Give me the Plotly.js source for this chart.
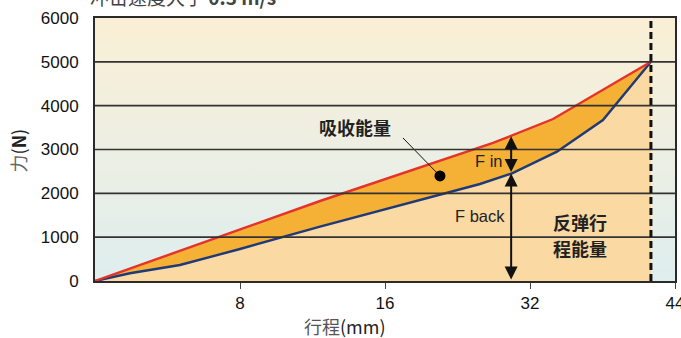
<!DOCTYPE html>
<html>
<head>
<meta charset="utf-8">
<script src="https://cdn.plot.ly/plotly-3.0.1.min.js"></script>
<style>
  html, body { margin: 0; padding: 0; background: #ffffff; }
  #chart { width: 681px; height: 338px; }
</style>
</head>
<body>
<div id="chart"></div>
<script>
// x axis is drawn in equal-spaced slots, labelled with the stroke in mm
const xTickVals = [1, 2, 3, 4];
const xTickText = ['8', '16', '32', '44'];
const yTickVals = [0, 1000, 2000, 3000, 4000, 5000, 6000];

// F in (red) and F back (blue), force in N
const fInX = [0, 1.552, 2.745, 3.159, 3.834];
const fInY = [0, 1825, 3149, 3696, 5000];
const fBackX = [0, 0.241, 0.586, 1.0, 1.552, 2.428, 2.655, 2.876, 3.186, 3.503, 3.834];
const fBackY = [0, 176, 365, 730, 1239, 2001, 2213, 2457, 2950, 3673, 5000];

const strokeEnd = 3.834;
const arrowX = 2.87;
const arrowMid = 2450;
const arrowTop = 3300;

const CJK = '"Noto Sans CJK SC", "Noto Sans", sans-serif';
const NARROW = '"Liberation Sans Narrow", "Liberation Sans", Arial, sans-serif';

const bgSvg = '<svg xmlns="http://www.w3.org/2000/svg" width="10" height="100" preserveAspectRatio="none">' +
  '<defs><linearGradient id="g" x1="0" y1="0" x2="0" y2="1">' +
  '<stop offset="0" stop-color="#faefd5"/><stop offset="0.5" stop-color="#edefe3"/>' +
  '<stop offset="1" stop-color="#deeeee"/></linearGradient></defs>' +
  '<rect width="10" height="100" fill="url(#g)"/></svg>';

const traces = [
  { x: fBackX, y: fBackY, type: 'scatter', mode: 'lines', fill: 'tozeroy',
    fillcolor: '#fad9a2', line: { color: '#1f3a7a', width: 2.4 }, hoverinfo: 'skip' },
  { x: fInX, y: fInY, type: 'scatter', mode: 'lines', fill: 'tonexty',
    fillcolor: '#f5b036', line: { color: '#e5322a', width: 2.4 }, hoverinfo: 'skip' },
  // leader from the label to the area dot
  { x: [2.124, 2.379], y: [3263, 2396], type: 'scatter', mode: 'lines',
    line: { color: '#111', width: 1 }, hoverinfo: 'skip' },
  { x: [2.379], y: [2396], type: 'scatter', mode: 'markers',
    marker: { color: '#000000', size: 11, opacity: 1, line: { width: 0 } }, hoverinfo: 'skip' }
];

const shapes = yTickVals.slice(1, -1).map(v => ({
  type: 'line', xref: 'x', yref: 'y', x0: 0, x1: 4, y0: v, y1: v,
  line: { color: '#333', width: 1.6 }, layer: 'above'
}));
shapes.push({
  type: 'line', xref: 'x', yref: 'y', x0: strokeEnd, x1: strokeEnd, y0: 0, y1: 6000,
  line: { color: '#111', width: 3, dash: '7px,4px' }, layer: 'above'
});

const arrowStyle = { showarrow: true, arrowhead: 2, arrowside: 'end+start', arrowsize: 1.3,
  arrowwidth: 2, arrowcolor: '#111', axref: 'x', ayref: 'y', text: '', standoff: 0, startstandoff: 0 };

const annotations = [
  Object.assign({ x: arrowX, y: arrowTop, ax: arrowX, ay: arrowMid }, arrowStyle),
  Object.assign({ x: arrowX, y: arrowMid, ax: arrowX, ay: 0 }, arrowStyle),
  { x: 1.793, y: 3510, text: '<b>吸收能量</b>', showarrow: false,
    font: { family: CJK, size: 18, color: '#222' } },
  { x: 2.72, y: 2738, text: 'F in', showarrow: false,
    font: { family: NARROW, size: 16.5, color: '#222' } },
  { x: 2.655, y: 1483, text: 'F back', showarrow: false,
    font: { family: NARROW, size: 16.5, color: '#222' } },
  { x: 3.345, y: 1346, text: '<b>反弹行</b>', showarrow: false,
    font: { family: CJK, size: 18, color: '#222' } },
  { x: 3.345, y: 753, text: '<b>程能量</b>', showarrow: false,
    font: { family: CJK, size: 18, color: '#222' } },
  { xref: 'paper', yref: 'paper', x: -0.012, y: 1.08, xanchor: 'left', yanchor: 'middle',
    text: '冲击速度大于 <b>0.3 m/s</b>', showarrow: false,
    font: { family: CJK, size: 19, color: '#444' } },
  // axis titles placed where the reference has them
  { xref: 'paper', yref: 'paper', x: 0.431, y: -0.171, xanchor: 'center', yanchor: 'middle',
    text: '<span style="color:#555">行程</span>(mm)', showarrow: false,
    font: { family: CJK, size: 18, color: '#222' } },
  { xref: 'paper', yref: 'paper', x: -0.132, y: 0.498, xanchor: 'center', yanchor: 'middle',
    text: '<span style="color:#666">力</span>(<b>N</b>)', showarrow: false, textangle: -90,
    font: { family: CJK, size: 18, color: '#222' } }
];

const layout = {
  width: 681, height: 338,
  margin: { l: 95, r: 6, t: 18, b: 57 },
  paper_bgcolor: '#ffffff',
  plot_bgcolor: '#ffffff',
  showlegend: false,
  images: [{ source: 'data:image/svg+xml;charset=utf-8,' + encodeURIComponent(bgSvg),
    xref: 'paper', yref: 'paper', x: 0, y: 1, sizex: 1, sizey: 1,
    sizing: 'stretch', xanchor: 'left', yanchor: 'top', layer: 'below' }],
  xaxis: {
    range: [0, 4], tickvals: xTickVals, ticktext: xTickText,
    showgrid: false, zeroline: false, showline: true, mirror: true,
    linecolor: '#2a2a2a', linewidth: 2, ticks: 'outside', ticklen: 6, tickcolor: '#444',
    ticklabeloverflow: 'allow',
    tickfont: { family: NARROW, size: 17, color: '#111' },
    layer: 'above traces', fixedrange: true
  },
  yaxis: {
    range: [0, 6000], tickvals: yTickVals, showgrid: false, zeroline: false,
    showline: true, mirror: true, linecolor: '#2a2a2a', linewidth: 2, ticks: '',
    ticklabelstandoff: 11,
    tickfont: { family: NARROW, size: 17, color: '#111' },
    layer: 'above traces', fixedrange: true
  },
  shapes: shapes,
  annotations: annotations
};

Plotly.newPlot('chart', traces, layout, { displayModeBar: false, staticPlot: true });
</script>
</body>
</html>
